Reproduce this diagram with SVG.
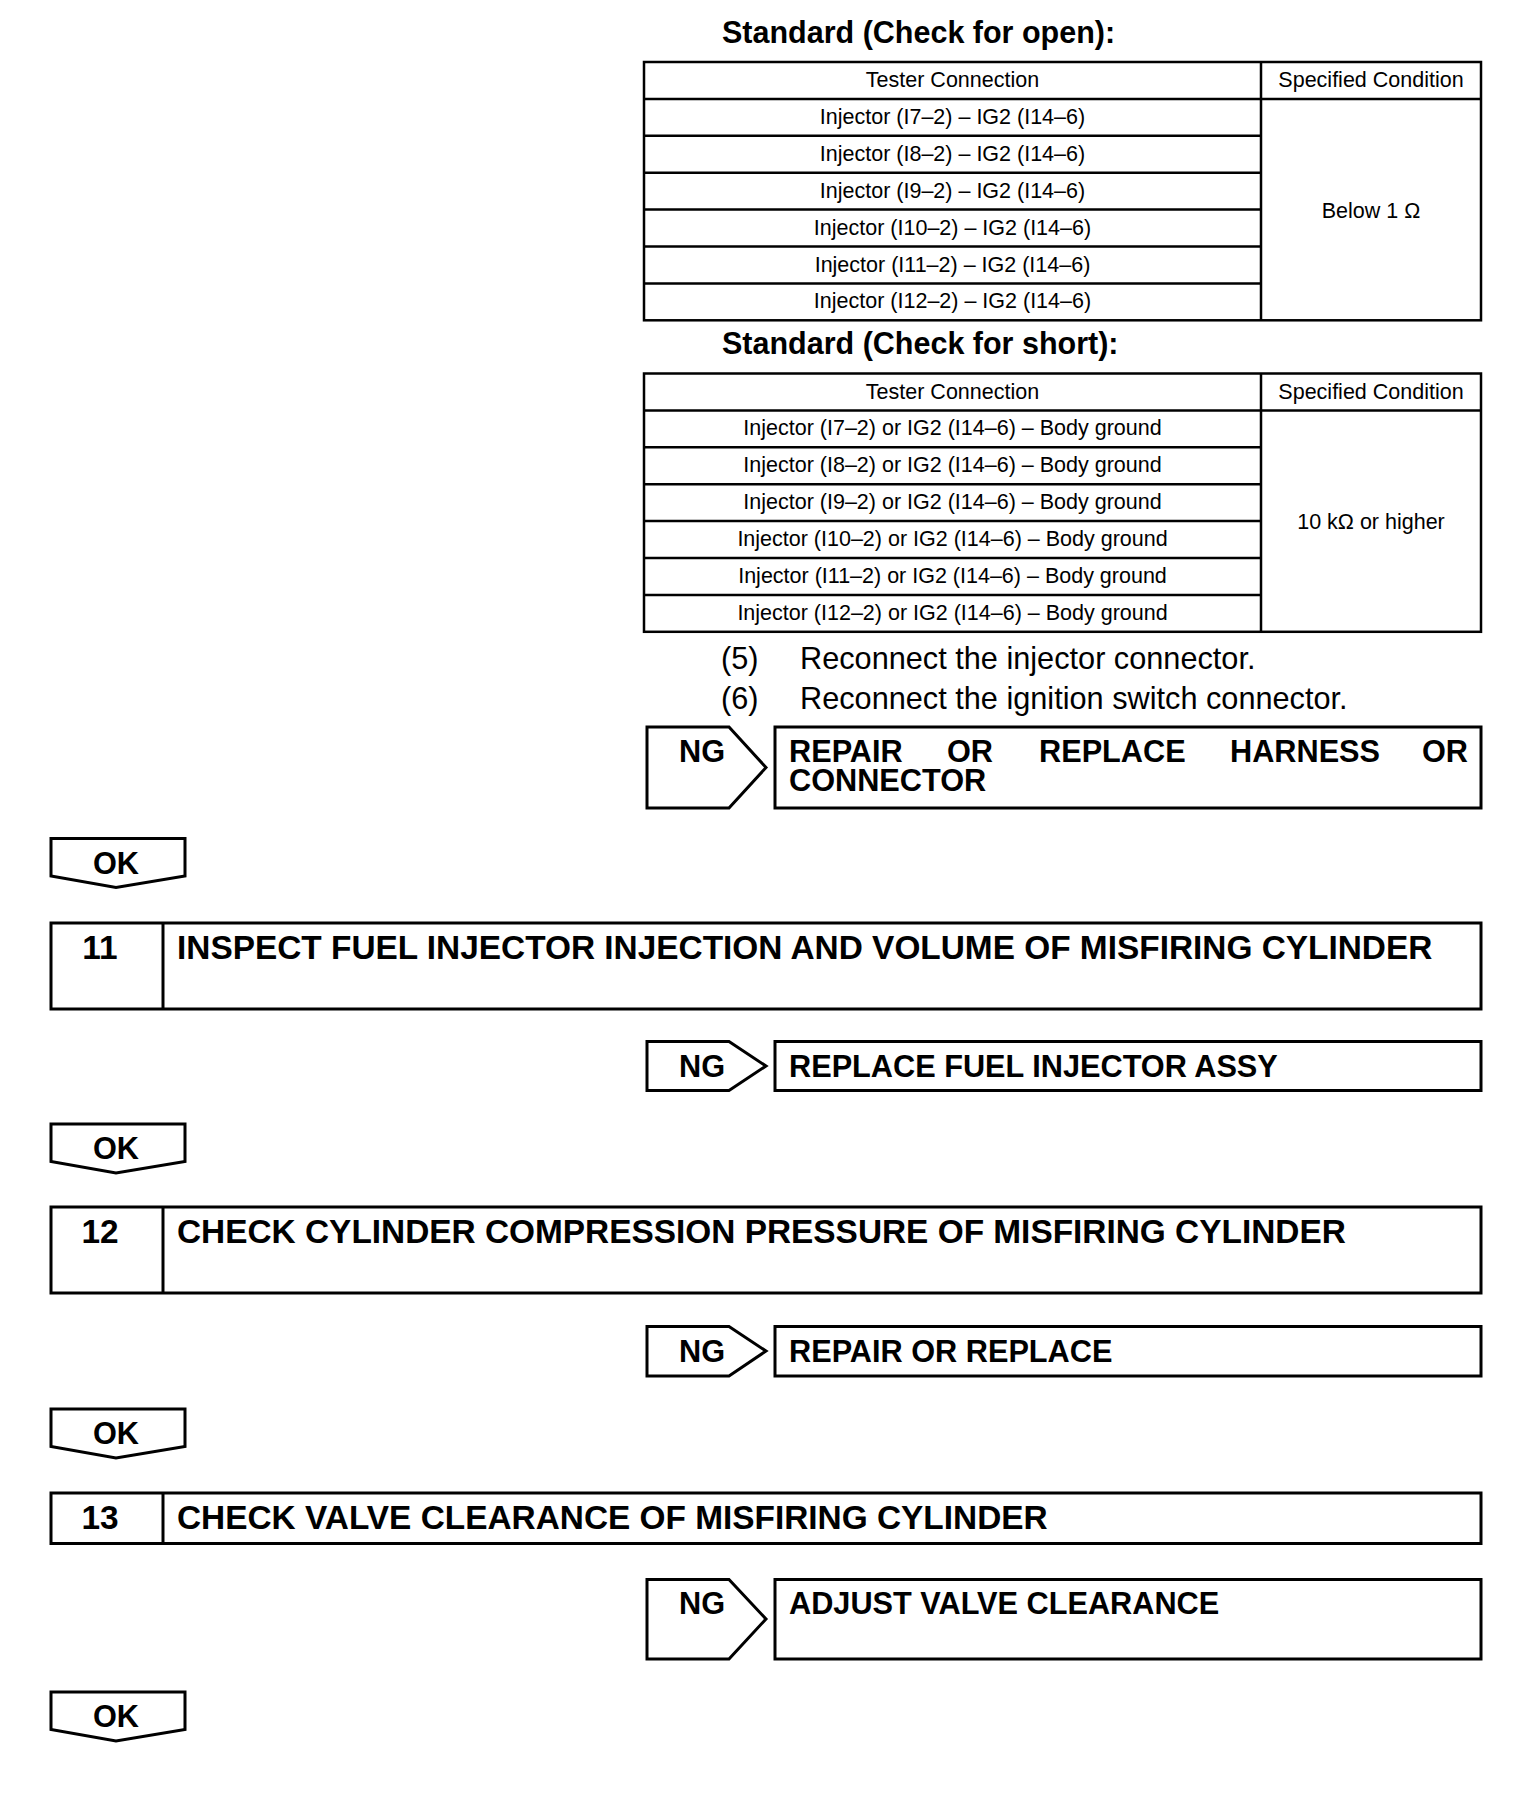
<svg xmlns="http://www.w3.org/2000/svg" width="1520" height="1798" viewBox="0 0 1520 1798">
<style>
text{font-family:"Liberation Sans",Arial,sans-serif;fill:#000}
.t{font-size:21.5px;text-anchor:middle}
.h{font-size:30.5px;font-weight:bold}
.p{font-size:30.7px}
.b{font-size:30.7px;font-weight:bold}
.s{font-size:33.4px;font-weight:bold}
.ln{stroke:#000;stroke-width:2.5;fill:none}
.bx{stroke:#000;stroke-width:3;fill:#fff}
</style>
<rect width="1520" height="1798" fill="#fff"/>

<g id="title-open"><text class="h" x="722" y="43">Standard (Check for open):</text></g>
<g id="table-open">
<rect class="ln" x="644" y="62" width="837" height="258.3"/>
<line class="ln" x1="1261" y1="62" x2="1261" y2="320.3"/>
<line class="ln" x1="644" y1="98.9" x2="1481" y2="98.9"/>
<line class="ln" x1="644" y1="135.8" x2="1261" y2="135.8"/>
<line class="ln" x1="644" y1="172.7" x2="1261" y2="172.7"/>
<line class="ln" x1="644" y1="209.6" x2="1261" y2="209.6"/>
<line class="ln" x1="644" y1="246.5" x2="1261" y2="246.5"/>
<line class="ln" x1="644" y1="283.4" x2="1261" y2="283.4"/>
<text class="t" x="952.5" y="87">Tester Connection</text>
<text class="t" x="1371" y="87">Specified Condition</text>
<text class="t" x="952.5" y="123.9">Injector (I7–2) – IG2 (I14–6)</text>
<text class="t" x="952.5" y="160.8">Injector (I8–2) – IG2 (I14–6)</text>
<text class="t" x="952.5" y="197.7">Injector (I9–2) – IG2 (I14–6)</text>
<text class="t" x="952.5" y="234.6">Injector (I10–2) – IG2 (I14–6)</text>
<text class="t" x="952.5" y="271.5">Injector (I11–2) – IG2 (I14–6)</text>
<text class="t" x="952.5" y="308.4">Injector (I12–2) – IG2 (I14–6)</text>
<text class="t" x="1371" y="217.5">Below 1 Ω</text>
</g>

<g id="title-short"><text class="h" x="722" y="354">Standard (Check for short):</text></g>
<g id="table-short">
<rect class="ln" x="644" y="373.5" width="837" height="258.3"/>
<line class="ln" x1="1261" y1="373.5" x2="1261" y2="631.8"/>
<line class="ln" x1="644" y1="410.4" x2="1481" y2="410.4"/>
<line class="ln" x1="644" y1="447.3" x2="1261" y2="447.3"/>
<line class="ln" x1="644" y1="484.2" x2="1261" y2="484.2"/>
<line class="ln" x1="644" y1="521.1" x2="1261" y2="521.1"/>
<line class="ln" x1="644" y1="558" x2="1261" y2="558"/>
<line class="ln" x1="644" y1="594.9" x2="1261" y2="594.9"/>
<text class="t" x="952.5" y="398.5">Tester Connection</text>
<text class="t" x="1371" y="398.5">Specified Condition</text>
<text class="t" x="952.5" y="435.4">Injector (I7–2) or IG2 (I14–6) – Body ground</text>
<text class="t" x="952.5" y="472.3">Injector (I8–2) or IG2 (I14–6) – Body ground</text>
<text class="t" x="952.5" y="509.2">Injector (I9–2) or IG2 (I14–6) – Body ground</text>
<text class="t" x="952.5" y="546.1">Injector (I10–2) or IG2 (I14–6) – Body ground</text>
<text class="t" x="952.5" y="583">Injector (I11–2) or IG2 (I14–6) – Body ground</text>
<text class="t" x="952.5" y="619.9">Injector (I12–2) or IG2 (I14–6) – Body ground</text>
<text class="t" x="1371" y="529">10 kΩ or higher</text>
</g>

<g id="steps-5-6">
<text class="p" x="721" y="669">(5)</text>
<text class="p" x="800" y="669">Reconnect the injector connector.</text>
<text class="p" x="721" y="709">(6)</text>
<text class="p" x="800" y="709">Reconnect the ignition switch connector.</text>
</g>

<g id="ng-1">
<path class="bx" d="M647,727 H729 L766,767.5 L729,808 H647 Z"/>
<text class="b" x="702" y="762" text-anchor="middle">NG</text>
</g>
<g id="result-1">
<rect class="bx" x="775" y="727" width="706" height="81"/>
<text class="b" x="789" y="762">REPAIR</text>
<text class="b" x="947" y="762">OR</text>
<text class="b" x="1039" y="762">REPLACE</text>
<text class="b" x="1230" y="762">HARNESS</text>
<text class="b" x="1468" y="762" text-anchor="end">OR</text>
<text class="b" x="789" y="791">CONNECTOR</text>
</g>

<g id="ok-1">
<path class="bx" d="M51,838.5 H185 V876 L116,887.5 L51,876 Z"/>
<text class="b" x="116" y="873.5" text-anchor="middle">OK</text>
</g>

<g id="step-11">
<rect class="bx" x="51" y="923" width="1430" height="86"/>
<line class="ln" x1="163" y1="923" x2="163" y2="1009" style="stroke-width:3"/>
<text class="s" x="100" y="959" text-anchor="middle">11</text>
<text class="s" x="177" y="959">INSPECT FUEL INJECTOR INJECTION AND VOLUME OF MISFIRING CYLINDER</text>
</g>

<g id="ng-2">
<path class="bx" d="M647,1041.5 H729 L766,1066 L729,1090.5 H647 Z"/>
<text class="b" x="702" y="1076.5" text-anchor="middle">NG</text>
</g>
<g id="result-2">
<rect class="bx" x="775" y="1041.5" width="706" height="49"/>
<text class="b" x="789" y="1076.5">REPLACE FUEL INJECTOR ASSY</text>
</g>

<g id="ok-2">
<path class="bx" d="M51,1124 H185 V1161.5 L116,1173 L51,1161.5 Z"/>
<text class="b" x="116" y="1159" text-anchor="middle">OK</text>
</g>

<g id="step-12">
<rect class="bx" x="51" y="1207" width="1430" height="86"/>
<line class="ln" x1="163" y1="1207" x2="163" y2="1293" style="stroke-width:3"/>
<text class="s" x="100" y="1243" text-anchor="middle">12</text>
<text class="s" x="177" y="1243">CHECK CYLINDER COMPRESSION PRESSURE OF MISFIRING CYLINDER</text>
</g>

<g id="ng-3">
<path class="bx" d="M647,1326.5 H729 L766,1351 L729,1376 H647 Z"/>
<text class="b" x="702" y="1361.5" text-anchor="middle">NG</text>
</g>
<g id="result-3">
<rect class="bx" x="775" y="1326.5" width="706" height="49.5"/>
<text class="b" x="789" y="1361.5">REPAIR OR REPLACE</text>
</g>

<g id="ok-3">
<path class="bx" d="M51,1409 H185 V1446.5 L116,1458 L51,1446.5 Z"/>
<text class="b" x="116" y="1444" text-anchor="middle">OK</text>
</g>

<g id="step-13">
<rect class="bx" x="51" y="1493" width="1430" height="50.5"/>
<line class="ln" x1="163" y1="1493" x2="163" y2="1543.5" style="stroke-width:3"/>
<text class="s" x="100" y="1529" text-anchor="middle">13</text>
<text class="s" x="177" y="1529">CHECK VALVE CLEARANCE OF MISFIRING CYLINDER</text>
</g>

<g id="ng-4">
<path class="bx" d="M647,1579.5 H729 L766,1619 L729,1659 H647 Z"/>
<text class="b" x="702" y="1614" text-anchor="middle">NG</text>
</g>
<g id="result-4">
<rect class="bx" x="775" y="1579.5" width="706" height="79.5"/>
<text class="b" x="789" y="1614">ADJUST VALVE CLEARANCE</text>
</g>

<g id="ok-4">
<path class="bx" d="M51,1692 H185 V1729.5 L116,1741 L51,1729.5 Z"/>
<text class="b" x="116" y="1727" text-anchor="middle">OK</text>
</g>

<g id="connectors"></g>
</svg>
